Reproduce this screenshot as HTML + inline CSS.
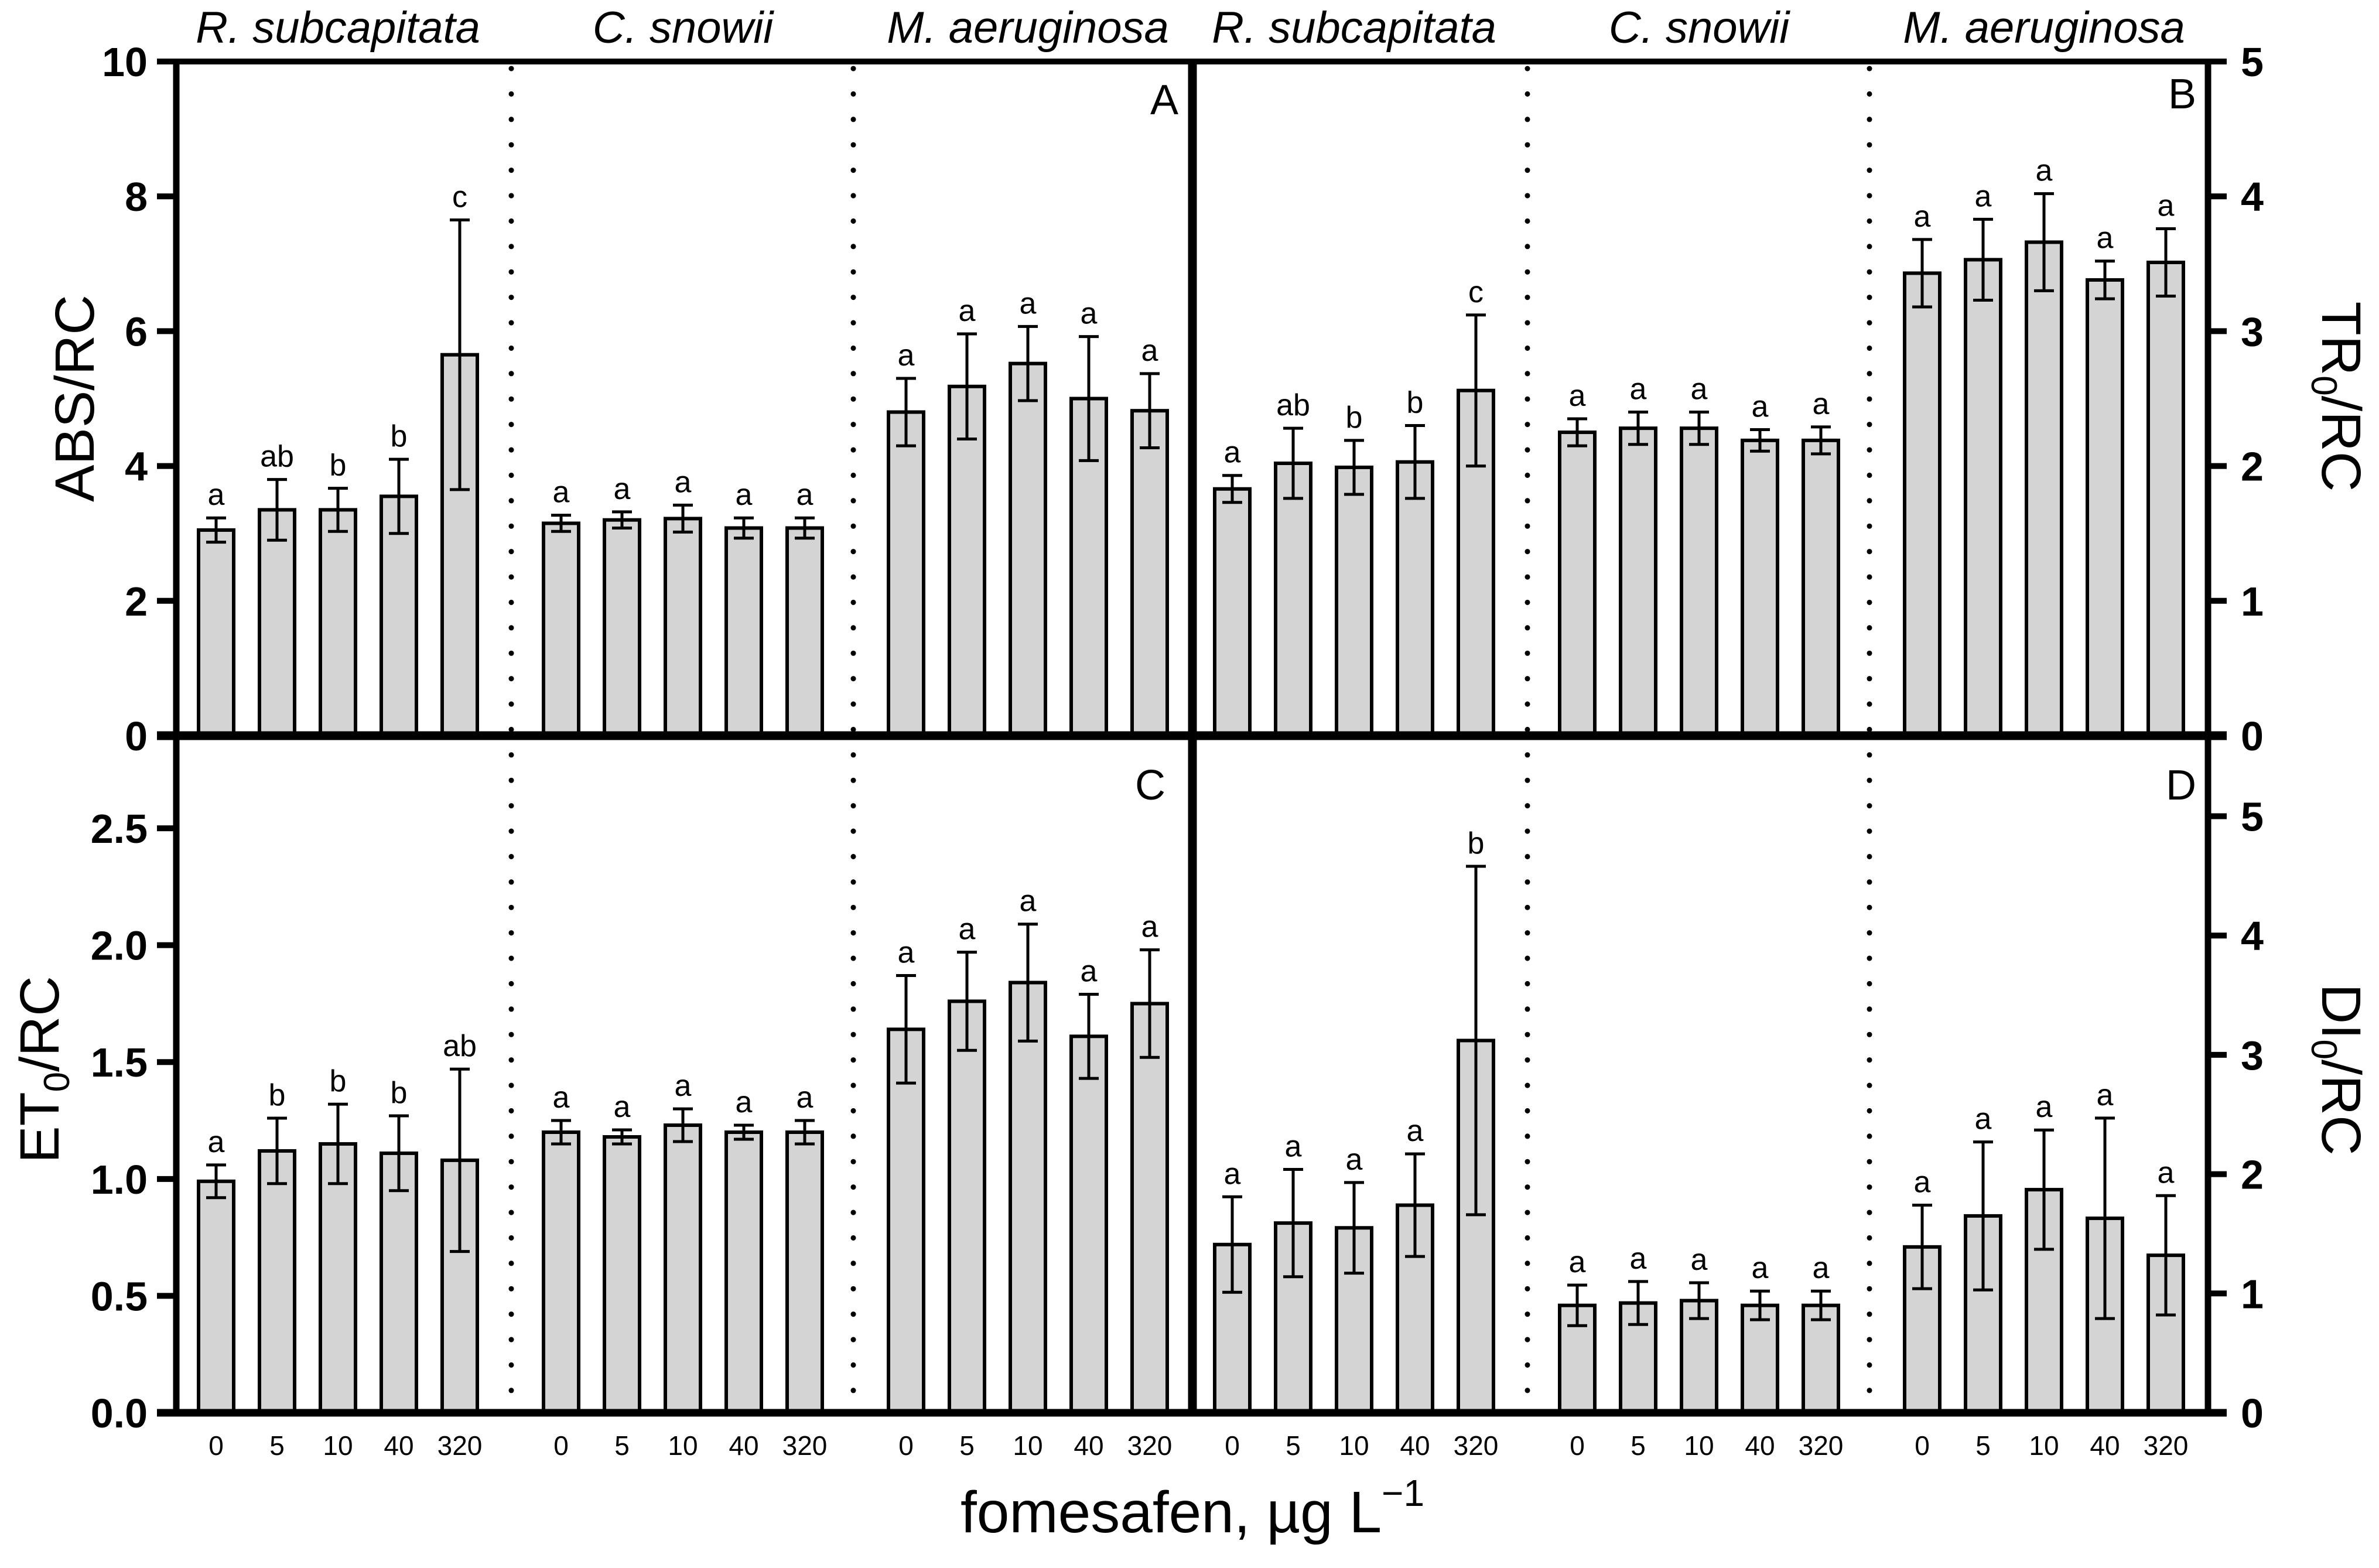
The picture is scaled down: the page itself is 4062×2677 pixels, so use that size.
<!DOCTYPE html>
<html><head><meta charset="utf-8"><style>
html,body{margin:0;padding:0;background:#fff;}
svg{display:block;}
text{font-family:"Liberation Sans",Arial,sans-serif;}
</style></head><body>
<svg id="chart" width="4062" height="2677" viewBox="0 0 4062 2677" xmlns="http://www.w3.org/2000/svg">
<g id="g"></g>
</svg>
<script>
// ---------- data ----------
const concentrations = ["0","5","10","40","320"];
const species = ["R. subcapitata","C. snowii","M. aeruginosa"];
// Panel A: ABS/RC
const absMean = [3.05,3.35,3.35,3.55,5.65, 3.15,3.2,3.22,3.08,3.08, 4.8,5.18,5.52,5.0,4.82];
const absErr  = [0.18,0.45,0.32,0.55,2.0, 0.12,0.12,0.2,0.15,0.15, 0.5,0.78,0.55,0.92,0.55];
const absLetters = ["a","ab","b","b","c","a","a","a","a","a","a","a","a","a","a"];
// Panel B: TR0/RC
const trMean = [1.83,2.02,1.99,2.03,2.56, 2.25,2.28,2.28,2.19,2.19, 3.43,3.53,3.66,3.38,3.51];
const trErr  = [0.1,0.26,0.2,0.27,0.56, 0.1,0.12,0.12,0.08,0.1, 0.25,0.3,0.36,0.14,0.25];
const trLetters = ["a","ab","b","b","c","a","a","a","a","a","a","a","a","a","a"];
// Panel C: ET0/RC
const etMean = [0.99,1.12,1.15,1.11,1.08, 1.2,1.18,1.23,1.2,1.2, 1.64,1.76,1.84,1.61,1.75];
const etErr  = [0.07,0.14,0.17,0.16,0.39, 0.05,0.03,0.07,0.03,0.05, 0.23,0.21,0.25,0.18,0.23];
const etLetters = ["a","b","b","b","ab","a","a","a","a","a","a","a","a","a","a"];
// Panel D: DI0/RC
const diMean = [1.41,1.59,1.55,1.74,3.12, 0.9,0.92,0.94,0.9,0.9, 1.39,1.65,1.87,1.63,1.32];
const diErr  = [0.4,0.45,0.38,0.43,1.46, 0.17,0.18,0.15,0.12,0.12, 0.35,0.62,0.5,0.84,0.5];
const diLetters = ["a","a","a","a","b","a","a","a","a","a","a","a","a","a","a"];
const ticksA = [0,2,4,6,8,10];
const ticksB = [0,1,2,3,4,5];
const ticksC = ["0.0","0.5","1.0","1.5","2.0","2.5"];
const ticksD = [0,1,2,3,4,5];

// ---------- layout ----------
const NS="http://www.w3.org/2000/svg";
const G=document.getElementById('g');
const L=301, M=2036, R=3770, T=105, MID=1256, B=2412;
function el(tag,attrs,parent){const e=document.createElementNS(NS,tag);for(const k in attrs)e.setAttribute(k,attrs[k]);(parent||G).appendChild(e);return e;}
function barX(panelLeft,i){const g=Math.floor(i/5),k=i%5;return panelLeft+68+g*589+k*104;}

function panel(opts){
  const {x0,top,bottom,max,means,errs,letters,name}=opts;
  const y=v=>bottom-(v/max)*(bottom-top);
  const grp=el('g',{});
  
  
  means.forEach((m,i)=>{
    const cx=barX(x0,i);
    const r=el('rect',{x:cx-30,y:y(m),width:60,height:bottom-y(m),fill:'#d4d4d4',stroke:'#000','stroke-width':6},grp);
    
    
    const e=errs[i], yt=y(m+e), yb=y(Math.max(0,m-e));
    const eb=el('path',{d:`M${cx},${yt}V${yb}M${cx-17},${yt}H${cx+17}M${cx-17},${yb}H${cx+17}`,stroke:'#000','stroke-width':5,fill:'none'},grp);
    
    
    const t=el('text',{x:cx,y:yt-22,'font-size':52,'text-anchor':'middle'},grp);
    t.textContent=letters[i];
    
    
  });
}
panel({x0:L,top:T,bottom:MID,max:10,means:absMean,errs:absErr,letters:absLetters,name:'abs-rc'});
panel({x0:M,top:T,bottom:MID,max:5,means:trMean,errs:trErr,letters:trLetters,name:'tr0-rc'});
panel({x0:L,top:MID,bottom:B,max:2.896,means:etMean,errs:etErr,letters:etLetters,name:'et0-rc'});
panel({x0:M,top:MID,bottom:B,max:5.675,means:diMean,errs:diErr,letters:diLetters,name:'di0-rc'});

// dotted separators
[873,1457,2608,3192].forEach(x=>{
  const d=el('line',{x1:x,y1:T+12,x2:x,y2:B,stroke:'#000','stroke-width':9,'stroke-linecap':'round','stroke-dasharray':'0.1 43.3'});
  
  
});

// axes frame
const ax=el('g',{stroke:'#000',fill:'none'});


el('line',{x1:268,y1:T,x2:3802,y2:T,'stroke-width':10},ax);
el('line',{x1:268,y1:MID,x2:3802,y2:MID,'stroke-width':15},ax);
el('line',{x1:268,y1:B,x2:3802,y2:B,'stroke-width':13},ax);
el('line',{x1:L,y1:T-5,x2:L,y2:B+6,'stroke-width':11},ax);
el('line',{x1:M,y1:T-5,x2:M,y2:B+6,'stroke-width':15},ax);
el('line',{x1:R,y1:T-5,x2:R,y2:B+6,'stroke-width':11},ax);

function yTicks(labels,max,top,bottom,side,name){
  labels.forEach(lb=>{
    const v=parseFloat(lb), yy=bottom-(v/max)*(bottom-top);
    if(side==='L'){el('line',{x1:268,y1:yy,x2:L,y2:yy,stroke:'#000','stroke-width':10});}
    else{el('line',{x1:R,y1:yy,x2:3802,y2:yy,stroke:'#000','stroke-width':10});}
    const t=el('text',{x:side==='L'?252:3826,y:yy+25,'font-size':70,'font-weight':'bold','text-anchor':side==='L'?'end':'start'});
    t.textContent=lb;
    
    
  });
}
yTicks(ticksA.map(String),10,T,MID,'L','abs-y');
yTicks(ticksB.map(String),5,T,MID,'R','tr-y');
yTicks(ticksC,2.896,MID,B,'L','et-y');
yTicks(ticksD.map(String),5.675,MID,B,'R','di-y');

// x tick labels
[L,M].forEach(px=>{
  for(let i=0;i<15;i++){
    const t=el('text',{x:barX(px,i),y:2484,'font-size':46,'text-anchor':'middle'});
    t.textContent=concentrations[i%5];
    
    
  }
  species.forEach((s,g)=>{
    const t=el('text',{x:barX(px,g*5+2),y:73,'font-size':76,'font-style':'italic','text-anchor':'middle'});
    t.textContent=s;
    
    
  });
});

// panel letters
[["A",2012,195],["B",3750,185],["C",1990,1365],["D",3750,1365]].forEach(p=>{
  const t=el('text',{x:p[1],y:p[2],'font-size':72,'text-anchor':'end'});
  t.textContent=p[0];
  
  
});
</script>
<svg style="position:absolute;left:0;top:0" width="4062" height="2677" xmlns="http://www.w3.org/2000/svg">
<text transform="translate(160,680) rotate(-90)" font-size="95" text-anchor="middle" font-family="Liberation Sans, sans-serif">ABS/RC</text>
<text transform="translate(3965,677) rotate(90)" font-size="95" text-anchor="middle" font-family="Liberation Sans, sans-serif">TR<tspan font-size="62" dy="18">0</tspan><tspan dy="-18">/RC</tspan></text>
<text transform="translate(100,1826) rotate(-90)" font-size="95" text-anchor="middle" font-family="Liberation Sans, sans-serif">ET<tspan font-size="62" dy="18">0</tspan><tspan dy="-18">/RC</tspan></text>
<text transform="translate(3965,1826) rotate(90)" font-size="95" text-anchor="middle" font-family="Liberation Sans, sans-serif">DI<tspan font-size="62" dy="18">0</tspan><tspan dy="-18">/RC</tspan></text>
<text x="2036" y="2616" font-size="100" text-anchor="middle" font-family="Liberation Sans, sans-serif">fomesafen, µg L<tspan font-size="64" dy="-45">−1</tspan></text>
</svg>
</body></html>
